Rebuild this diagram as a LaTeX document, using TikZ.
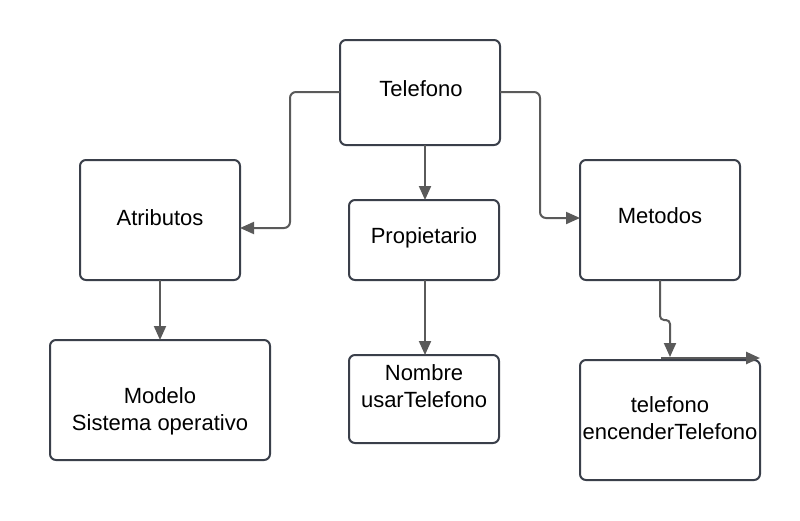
\documentclass[tikz,border=0pt]{standalone}
\usepackage{fontspec}
\setmainfont{Liberation Sans}
\usetikzlibrary{arrows.meta}
\definecolor{boxline}{HTML}{3A3F4A}
\definecolor{conn}{HTML}{5A5A5A}
\tikzset{
  box/.style={draw=boxline, line width=2pt, rounded corners=6pt, fill=white},
  lbl/.style={font=\fontsize{22}{27}\selectfont, align=center, inner sep=0pt},
  conline/.style={draw=conn, line width=2pt, rounded corners=6pt, -{Triangle[length=14pt,width=12pt]}},
}
\begin{document}
\begin{tikzpicture}[x=1pt,y=-1pt]
\useasboundingbox (0,0) rectangle (800,520);
% boxes
\draw[box] (340,40) rectangle (500,145);
\draw[box] (80,160) rectangle (240,280);
\draw[box] (349,200) rectangle (499,280);
\draw[box] (580,160) rectangle (740,280);
\draw[box] (50,340) rectangle (270,460);
\draw[box] (349,355) rectangle (499,443);
\draw[box] (580,360) rectangle (760,480);
% labels
\node[lbl] (telefono) at (421,89) {Telefono};
\node[lbl] (atributos) at (160,218) {Atributos};
\node[lbl] (propietario) at (424,238) {Propietario};
\node[lbl] (metodos) at (660,216) {Metodos};
\node[lbl] (modelo) at (160,411) {Modelo\\Sistema operativo};
\node[lbl] (nombre) at (424,386) {Nombre\\usarTelefono};
\node[lbl] (tel2) at (670,418) {telefono\\encenderTelefono};
% anchor coordinates
\coordinate (tL) at (340,92);
\coordinate (tR) at (500,92);
\coordinate (tB) at (425,145);
\coordinate (aR) at (240,228);
\coordinate (aB) at (160,280);
\coordinate (mL) at (580,218);
\coordinate (pT) at (425,200);
\coordinate (pB) at (425,280);
\coordinate (moT) at (160,340);
\coordinate (nT) at (425,355);
\coordinate (meB) at (660,280);
\coordinate (teT) at (670,357);
\coordinate (hS) at (661,358);
\coordinate (hE) at (760,358);
% connectors
\draw[conline] (tL) -| (290,228) -- (aR);
\draw[conline] (tR) -| (540,218) -- (mL);
\draw[conline] (tB) -- (pT);
\draw[conline] (aB) -- (moT);
\draw[conline] (pB) -- (nT);
\draw[conline, rounded corners=4pt] (meB) -- (660,320) -- (670,320) -- (teT);
\draw[conline, line width=2.5pt] (hS) -- (hE);
\end{tikzpicture}
\end{document}
